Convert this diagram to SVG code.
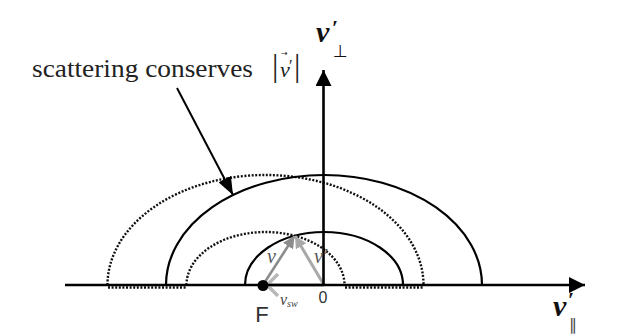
<svg xmlns="http://www.w3.org/2000/svg" width="620" height="336" viewBox="0 0 620 336">
<style>
.solid{fill:none;stroke:#000;stroke-width:2.2}
.dot{fill:none;stroke:#111;stroke-width:2.4;stroke-dasharray:2 1.6}
.axis{fill:none;stroke:#000;stroke-width:2.6}
.serif{font-family:"Liberation Serif","DejaVu Serif",serif}
.ital{font-family:"Liberation Serif","DejaVu Serif",serif;font-style:italic}
.sans{font-family:"Liberation Sans","DejaVu Sans",sans-serif}
.sym{font-family:"DejaVu Sans",sans-serif}
</style>
<defs>
<marker id="blk" markerUnits="userSpaceOnUse" markerWidth="18" markerHeight="16" refX="16" refY="8" orient="auto">
<path d="M0,0 L16,8 L0,16 z" fill="#000"/>
</marker>
<marker id="ptr" markerUnits="userSpaceOnUse" markerWidth="20" markerHeight="14" refX="18" refY="7" orient="auto">
<path d="M0,0 L18,7 L0,14 z" fill="#000"/>
</marker>
<marker id="g1" markerUnits="userSpaceOnUse" markerWidth="14" markerHeight="12" refX="12" refY="6" orient="auto">
<path d="M0,0 L12,6 L0,12 z" fill="#8c8c8c"/>
</marker>
<marker id="g2" markerUnits="userSpaceOnUse" markerWidth="14" markerHeight="12" refX="12" refY="6" orient="auto">
<path d="M0,0 L12,6 L0,12 z" fill="#a8a8a8"/>
</marker>
<marker id="g3" markerUnits="userSpaceOnUse" markerWidth="16" markerHeight="24" refX="14" refY="12" orient="auto">
<path d="M2,1 L13,12 L2,23" fill="none" stroke="#b8b8b8" stroke-width="3.5"/>
</marker>
</defs>
<g id="curves">
<path class="dot" d="M107.5,285 A158 110 0 0 1 423.5,285"/>
<path class="dot" d="M186.5,285 A79 53 0 0 1 344.5,285"/>
<path class="dot" d="M108,287.5 L187,287.5 M345,287.5 L423,287.5"/>
<path class="solid" d="M166,285 A158 110 0 0 1 482,285"/>
<path class="solid" d="M245,285 A79 53 0 0 1 403,285"/>
</g>
<g id="vectors">
<line x1="324" y1="285" x2="266" y2="285" stroke="#b8b8b8" stroke-width="3.5" marker-end="url(#g3)"/>
<line x1="263" y1="285" x2="294.5" y2="236" stroke="#8c8c8c" stroke-width="2.6" marker-end="url(#g1)"/>
<line x1="324" y1="285" x2="295" y2="236" stroke="#a8a8a8" stroke-width="3" marker-end="url(#g2)"/>
</g>
<g id="axes">
<line class="axis" x1="65" y1="285" x2="585" y2="285" marker-end="url(#blk)"/>
<line class="axis" x1="323.5" y1="285" x2="323.5" y2="70" marker-end="url(#blk)"/>
</g>
<g id="F">
<circle cx="263" cy="285.5" r="5.5" fill="#000"/>
<text class="sans" x="262" y="322" font-size="22" fill="#333" text-anchor="middle">F</text>
</g>
<g id="origin">
<text class="sans" x="323" y="303" font-size="16" fill="#333" text-anchor="middle">0</text>
</g>
<g id="labels">
<text class="ital" x="267" y="263" font-size="20" fill="#555">v</text>
<text class="ital" x="314" y="263" font-size="20" fill="#555">v′</text>
<text class="ital" x="280" y="305" font-size="16" fill="#444">v<tspan font-size="10" dy="2">sw</tspan></text>
<text class="ital" x="316" y="42" font-size="30" font-weight="bold" fill="#111">v</text>
<text class="serif" x="332" y="35" font-size="22" font-weight="bold" fill="#111">′</text>
<text class="sym" x="333" y="57" font-size="17" fill="#111">⊥</text>
<text class="ital" x="553" y="316" font-size="30" font-weight="bold" fill="#111">v</text>
<text class="serif" x="568" y="307" font-size="22" font-weight="bold" fill="#111">′</text>
<text class="sym" x="569" y="330" font-size="16" fill="#444">∥</text>
</g>
<g id="note">
<text class="serif" x="32" y="77" font-size="26" fill="#222" textLength="221" lengthAdjust="spacingAndGlyphs">scattering conserves</text>
<text class="serif" x="272" y="76" font-size="32" fill="#222">|</text>
<text class="ital" x="280" y="77" font-size="22" fill="#222">v</text>
<text class="sym" x="281" y="56" font-size="8" fill="#222">→</text>
<text class="serif" x="289" y="71" font-size="16" fill="#222">′</text>
<text class="serif" x="294" y="76" font-size="32" fill="#222">|</text>
<line x1="177" y1="88" x2="233" y2="195" stroke="#000" stroke-width="2" marker-end="url(#ptr)"/>
</g>
</svg>
